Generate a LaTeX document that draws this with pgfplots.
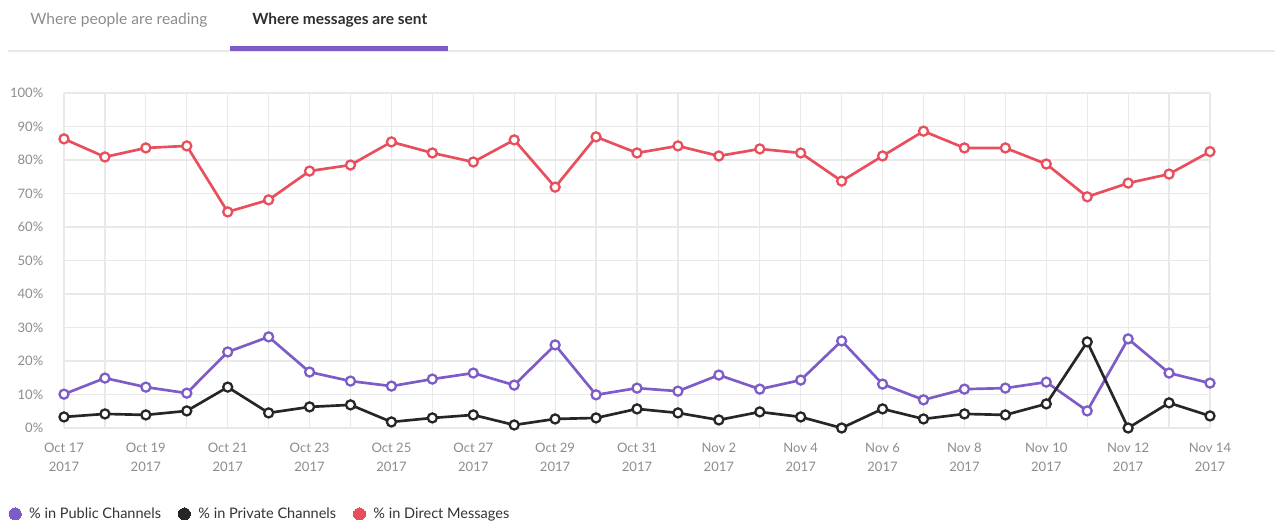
\documentclass[border=0pt]{standalone}
\usepackage{pgfplots}
\pgfplotsset{compat=1.18}
\usepackage{pgfplotstable}
\usepackage{fontspec}
\setmainfont{Lato}
\definecolor{pub}{HTML}{7E5CC8}
\definecolor{priv}{HTML}{262626}
\definecolor{dm}{HTML}{E84E5B}
\definecolor{gridc}{HTML}{E9E9E9}
\definecolor{lab}{HTML}{8C8C8C}

\pgfplotstableread{
x pub priv dm
0  10.1  3.3 86.3
1  14.9  4.2 80.9
2  12.2  3.9 83.6
3  10.4  5.1 84.2
4  22.7 12.2 64.5
5  27.2  4.5 68.1
6  16.7  6.3 76.7
7  14.0  6.9 78.5
8  12.5  1.8 85.4
9  14.6  3.0 82.1
10 16.4  3.9 79.4
11 12.8  0.9 86.0
12 24.8  2.7 71.9
13  9.9  3.0 86.9
14 11.9  5.7 82.1
15 11.0  4.5 84.2
16 15.8  2.4 81.2
17 11.6  4.8 83.3
18 14.3  3.3 82.1
19 26.0  0.0 73.7
20 13.1  5.7 81.2
21  8.4  2.7 88.6
22 11.6  4.2 83.6
23 11.9  3.9 83.6
24 13.7  7.2 78.8
25  5.1 25.7 69.0
26 26.6  0.0 73.1
27 16.4  7.5 75.8
28 13.4  3.6 82.5
}\datatable

\begin{document}
\begin{tikzpicture}[x=0.75pt,y=0.75pt]
\path[use as bounding box] (0,0) rectangle (1275,523);
\node[anchor=west, text=lab, font=\fontsize{11.7}{14}\selectfont, inner sep=0] at (30,503) {Where people are reading};
\node[anchor=west, text=black!82, font=\fontsize{11.6}{14}\selectfont\bfseries, inner sep=0] at (252,503) {Where messages are sent};
\draw[gridc, line width=1pt] (8,472) -- (1275,472);
\fill[pub] (230,472) rectangle (448,476.5);

\begin{axis}[
  at={(48pt,71.25pt)}, anchor=south west,
  scale only axis, width=859.5pt, height=251.25pt,
  xmin=0, xmax=28, ymin=0, ymax=100,
  axis line style={draw=none},
  grid=both,
  minor x tick num=1,
  major grid style={gridc, line width=0.9pt},
  minor grid style={gridc, line width=0.9pt},
  xtick={0,2,...,28},
  xticklabels={Oct 17\\2017,Oct 19\\2017,Oct 21\\2017,Oct 23\\2017,Oct 25\\2017,Oct 27\\2017,Oct 29\\2017,Oct 31\\2017,Nov 2\\2017,Nov 4\\2017,Nov 6\\2017,Nov 8\\2017,Nov 10\\2017,Nov 12\\2017,Nov 14\\2017},
  ytick={0,10,...,100},
  yticklabels={0\%,10\%,20\%,30\%,40\%,50\%,60\%,70\%,80\%,90\%,100\%},
  major tick length=0pt, minor tick length=0pt,
  tick label style={text=lab, font=\fontsize{9.8}{14}\selectfont},
  xticklabel style={align=center, yshift=-8pt},
  yticklabel style={xshift=-12pt},
  every axis plot/.append style={line width=2pt, mark size=3.4pt},
  legend style={at={(-0.0515,-0.2567)}, anchor=west, draw=none, fill=none,
    legend columns=3, font=\fontsize{10.9}{12}\selectfont, text=black!80,
    /tikz/every odd column/.append style={column sep=4pt},
    /tikz/every even column/.append style={column sep=11pt}},
  legend cell align=left,
  clip=false,
]
\addplot[color=pub, mark=*, mark options={fill=white, line width=1.7pt}, forget plot] table[x=x,y=pub] {\datatable};
\addplot[color=priv, mark=*, mark options={fill=white, line width=1.7pt}, forget plot] table[x=x,y=priv] {\datatable};
\addplot[color=dm, mark=*, mark options={fill=white, line width=1.7pt}, forget plot] table[x=x,y=dm] {\datatable};
\addlegendimage{only marks, mark=*, mark size=4.5pt, color=pub, mark options={line width=0pt}}
\addlegendentry{\% in Public Channels}
\addlegendimage{only marks, mark=*, mark size=4.5pt, color=priv, mark options={line width=0pt}}
\addlegendentry{\% in Private Channels}
\addlegendimage{only marks, mark=*, mark size=4.5pt, color=dm, mark options={line width=0pt}}
\addlegendentry{\% in Direct Messages}
\end{axis}
\end{tikzpicture}
\end{document}
